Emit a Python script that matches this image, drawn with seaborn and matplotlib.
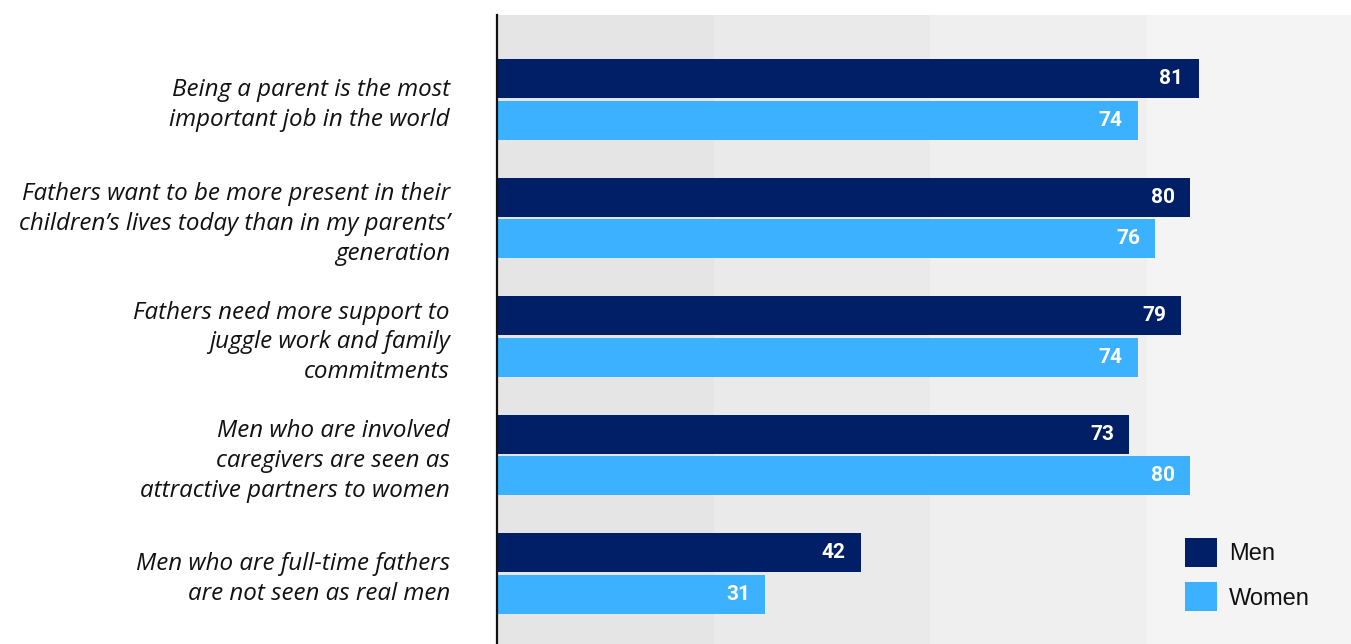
import matplotlib
matplotlib.use("Agg")
import matplotlib.pyplot as plt
import seaborn as sns
import pandas as pd

# Survey statements and agreement shares (%)
statements = [
    "Being a parent is the most\nimportant job in the world",
    "Fathers want to be more present in their\nchildren’s lives today than in my parents’\ngeneration",
    "Fathers need more support to\njuggle work and family\ncommitments",
    "Men who are involved\ncaregivers are seen as\nattractive partners to women",
    "Men who are full-time fathers\nare not seen as real men",
]
men = [81, 80, 79, 73, 42]
women = [74, 76, 74, 80, 31]
groups = ["Men", "Women"]

group_colors = ["#001f66", "#3cb1ff"]
band_edges = [0, 25, 50, 75, 100]
band_colors = ["#e5e5e5", "#eaeaea", "#efefef", "#f4f4f4"]

df = pd.DataFrame({
    "statement": statements * 2,
    "share": men + women,
    "group": [groups[0]] * len(men) + [groups[1]] * len(women),
})

sns.set_theme(style="white")
plt.rcParams["font.family"] = ["Roboto", "DejaVu Sans"]

W, H = 1351, 644
fig = plt.figure(figsize=(W / 100, H / 100), dpi=100)
ax = fig.add_axes([497 / W, 0, 1 - 497 / W, 1 - 15 / H])

# shaded background bands every 25 points
for lo, hi, c in zip(band_edges[:-1], band_edges[1:], band_colors):
    ax.axvspan(lo, hi, color=c, lw=0, zorder=0)

sns.barplot(
    data=df, y="statement", x="share", hue="group", hue_order=groups,
    palette=group_colors, orient="h", width=0.708, gap=0.07,
    saturation=1, errorbar=None, linewidth=0, ax=ax, zorder=2,
)

ax.set_xlim(0, 98.6)
ax.set_ylim(4.595, -0.713)
ax.set_xticks([])
ax.set_xlabel("")
ax.set_ylabel("")
ax.set_yticks(range(len(statements)))
ax.set_yticklabels(statements, fontstyle="italic", fontsize=17.4,
                   family=["Open Sans", "DejaVu Sans"],
                   linespacing=1.33, color="#111111")
ax.tick_params(axis="y", length=0, pad=34)

for side in ["top", "right", "bottom"]:
    ax.spines[side].set_visible(False)
ax.spines["left"].set_color("#111111")
ax.spines["left"].set_linewidth(1.6)
ax.spines["left"].set_zorder(5)

# value labels inside bar ends
for container in ax.containers:
    for bar in container:
        w = bar.get_width()
        ax.annotate(f"{w:.0f}", xy=(w, bar.get_y() + bar.get_height() / 2),
                    xytext=(-11, 0), textcoords="offset points",
                    ha="right", va="center", color="white",
                    fontsize=15, fontweight="bold", zorder=4)

handles, labels = ax.get_legend_handles_labels()
ax.legend(handles, labels, loc="upper left",
          bbox_to_anchor=(1185 / W, 1 - 538 / H), bbox_transform=fig.transFigure,
          frameon=False, prop={"family": "Liberation Sans", "size": 17},
          labelcolor="#111111",
          handlelength=1.35, handleheight=1.52, handletextpad=0.51,
          labelspacing=0.64, borderpad=0, borderaxespad=0)

fig.savefig("out.png", dpi=100, facecolor="white")
